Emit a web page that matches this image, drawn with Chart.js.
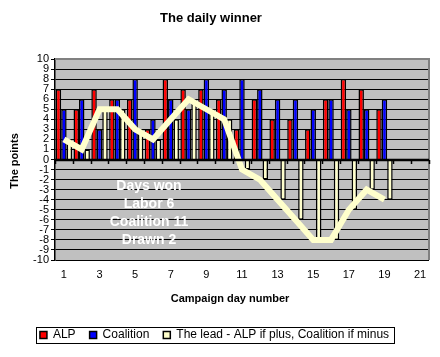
<!DOCTYPE html>
<html><head><meta charset="utf-8">
<script src="https://cdn.jsdelivr.net/npm/chart.js@4/dist/chart.umd.min.js"></script>
<style>html,body{margin:0;padding:0;background:#fff;}#wrap{width:440px;height:357px;}</style>
</head><body><div id="wrap"><canvas id="c" width="440" height="357"></canvas></div>
<script>
const days = ['1','2','3','4','5','6','7','8','9','10','11','12','13','14','15','16','17','18','19','20','21'];
const alp       = [7,5,7,6,6,3,8,7,7,6,3,6,4,4,3,6,8,7,5,null,null];
const coalition = [5,6,3,6,8,4,6,5,8,7,8,7,6,6,5,6,5,5,6,null,null];
const lead      = [2,1,5,5,3,2,4,6,5,4,-1,-2,-4,-6,-8,-8,-5,-3,-4,null,null];
const chartTitle = 'The daily winner';
const yTitle = 'The points';
const xTitle = 'Campaign day number';
const seriesNames = ['ALP','Coalition','The lead - ALP if plus, Coalition if minus'];
const note = ['Days won','Labor 6','Coalition 11','Drawn 2'];

const FONT = '"Liberation Sans", Arial, sans-serif';

const decor = {
  id: 'decor',
  beforeDraw(chart) {
    const {ctx, chartArea: a} = chart;
    ctx.save();
    ctx.fillStyle = '#C0C0C0';
    ctx.fillRect(a.left, a.top, a.right - a.left, a.bottom - a.top);
    ctx.restore();
  },
  beforeDatasetsDraw(chart) {
    const {ctx, chartArea: a} = chart;
    ctx.save();
    ctx.strokeStyle = '#808080';
    ctx.lineWidth = 2;
    ctx.beginPath();
    ctx.moveTo(a.left, a.top); ctx.lineTo(a.right, a.top); ctx.lineTo(a.right, a.bottom);
    ctx.stroke();
    ctx.restore();
  },
  afterDatasetsDraw(chart) {
    const {ctx, chartArea: a, scales: {x, y}} = chart;
    const y0 = Math.round(y.getPixelForValue(0));
    ctx.save();
    ctx.strokeStyle = '#000';
    ctx.lineWidth = 2.5;
    ctx.beginPath(); ctx.moveTo(a.left, y0); ctx.lineTo(a.right, y0); ctx.stroke();
    const step = (a.right - a.left) / days.length;
    ctx.lineWidth = 1.5;
    ctx.beginPath();
    for (let i = 0; i <= days.length; i++) {
      const px = Math.round(x.getPixelForValue(0) - step / 2 + i * step) + 0.5;
      ctx.moveTo(px, y0); ctx.lineTo(px, y0 + 4);
    }
    ctx.stroke();
    ctx.fillStyle = '#fff';
    ctx.font = 'bold 14px ' + FONT;
    ctx.textAlign = 'center';
    ctx.textBaseline = 'middle';
    note.forEach((t, i) => ctx.fillText(t, a.left + 94, y.getPixelForValue(-2.7) + i * 17.8));
    ctx.restore();
  },
  afterDraw(chart) {
    const {ctx} = chart;
    ctx.save();
    ctx.fillStyle = '#000';
    ctx.textAlign = 'center';
    ctx.textBaseline = 'middle';
    ctx.font = 'bold 13px ' + FONT;
    ctx.fillText(chartTitle, 211, 18);
    ctx.font = 'bold 11px ' + FONT;
    ctx.fillText(xTitle, 230, 299);
    ctx.translate(15, 161);
    ctx.rotate(-Math.PI / 2);
    ctx.fillText(yTitle, 0, 0);
    ctx.restore();
    const hb = chart.legend.legendHitBoxes;
    if (hb && hb.length) {
      const l = Math.min(...hb.map(h => h.left)) - 4;
      const r = Math.max(...hb.map(h => h.left + h.width)) + 5;
      const t = hb[0].top - 2;
      const b = hb[0].top + hb[0].height + 2;
      ctx.save();
      ctx.strokeStyle = '#000';
      ctx.lineWidth = 1;
      ctx.strokeRect(Math.round(l) + 0.5, Math.round(t) + 0.5, Math.round(r - l), Math.round(b - t));
      ctx.restore();
    }
  }
};

const barCommon = {type: 'bar', borderColor: '#000', borderWidth: 1.5, categoryPercentage: 0.92, barPercentage: 1};

new Chart(document.getElementById('c'), {
  data: {
    labels: days,
    datasets: [
      Object.assign({label: seriesNames[0], data: alp, backgroundColor: '#FF0000'}, barCommon),
      Object.assign({label: seriesNames[1], data: coalition, backgroundColor: '#0000FF'}, barCommon),
      Object.assign({label: seriesNames[2], data: lead, backgroundColor: '#FFFFCC'}, barCommon),
      {type: 'line', label: 'leadLine', data: lead, borderColor: '#FFFFCC', borderWidth: 6, pointRadius: 0, tension: 0, order: -1, borderJoinStyle: 'miter'}
    ]
  },
  options: {
    responsive: false,
    animation: false,
    devicePixelRatio: 1,
    layout: {padding: {top: 59, right: 11, bottom: 6, left: 0}},
    plugins: {
      title: {display: false},
      tooltip: {enabled: false},
      legend: {
        position: 'bottom',
        labels: {
          font: {family: FONT, size: 12},
          color: '#000',
          boxWidth: 7, boxHeight: 7, padding: 14,
          filter: item => item.datasetIndex < 3
        }
      }
    },
    scales: {
      x: {
        type: 'category',
        grid: {display: false, drawTicks: false, tickLength: 0},
        border: {display: false},
        ticks: {
          font: {family: FONT, size: 11}, color: '#000', padding: 8,
          maxRotation: 0, autoSkip: false,
          callback: (v, i) => (i % 2 === 0 ? days[i] : '')
        },
        afterFit: s => { s.height = 55; }
      },
      y: {
        min: -10, max: 10,
        ticks: {stepSize: 1, autoSkip: false, font: {family: FONT, size: 11}, color: '#000', padding: 2},
        grid: {color: '#000', lineWidth: 1, tickLength: 4, tickColor: '#000'},
        border: {color: '#000', width: 1.5},
        afterFit: s => { s.width = 55; }
      }
    }
  },
  plugins: [decor]
});
</script>
</body></html>
